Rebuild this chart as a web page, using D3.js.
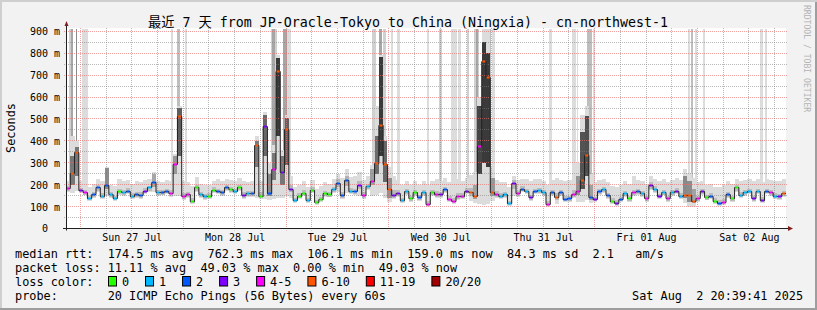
<!DOCTYPE html>
<html><head><meta charset="utf-8">
<script src="https://cdn.jsdelivr.net/npm/d3@7/dist/d3.min.js"></script>
<style>
body{margin:0;background:#f2f2f2;}
svg text{font-family:"DejaVu Sans Mono","Noto Sans CJK SC",monospace;white-space:pre;}
</style></head><body>
<svg id="c" width="817" height="310"></svg>
<script>
// ---------------- data ----------------
const title = "最近 7 天 from JP-Oracle-Tokyo to China (Ningxia) - cn-northwest-1";
const yLabel = "Seconds";
const watermark = "RRDTOOL / TOBI OETIKER";
const endTime = Date.UTC(2025, 7, 2, 20, 39, 41);
const spanHours = 168;           // 7 days, one value per hour
const yUpperMs = 913;            // graph upper limit (ms)
const yTicksMs = [0,100,200,300,400,500,600,700,800,900];
const yTickLabels = ["0  ","100 m","200 m","300 m","400 m","500 m","600 m","700 m","800 m","900 m"];
const dayNoons = ["2025-07-27","2025-07-28","2025-07-29","2025-07-30","2025-07-31","2025-08-01","2025-08-02"];
const dayLabels = ["Sun 27 Jul","Mon 28 Jul","Tue 29 Jul","Wed 30 Jul","Thu 31 Jul","Fri 01 Aug","Sat 02 Aug"];

// median RTT (ms), one per hour
const median = [
182,250,345,175,165,135,155,185,148,195,155,138,168,163,170,147,155,150,170,185,208,163,165,170,
160,290,512,145,155,125,185,155,145,147,175,170,163,185,178,170,185,150,160,158,380,148,465,160,
270,718,255,450,180,128,147,162,128,175,117,132,160,155,178,205,150,220,170,168,195,150,193,215,
295,470,290,180,150,160,128,168,135,163,140,163,108,163,155,155,178,132,125,145,147,170,163,148,
375,762,690,163,155,148,155,112,205,158,180,170,140,170,173,163,110,163,140,163,132,135,155,170,
220,335,140,132,167,178,150,125,115,132,160,135,163,168,160,135,195,178,145,165,135,163,170,147,
152,150,125,135,168,140,147,125,115,120,155,135,185,152,163,170,135,170,130,170,163,147,145,159];

// lost pings out of 20, one per hour
const loss = [
5,8,8,3,5,1,2,2,1,2,1,1,0,1,2,1,2,2,3,1,2,1,2,2,
5,5,8,5,4,0,0,1,1,0,0,2,2,2,0,1,0,3,1,2,8,0,3,2,
5,8,3,8,3,1,0,0,1,0,0,0,0,0,1,2,2,2,1,2,3,5,1,5,
8,8,8,8,3,3,1,1,0,0,2,1,5,0,5,3,2,5,5,5,5,3,8,8,
5,8,8,8,5,1,1,1,3,5,2,1,3,2,1,1,5,2,8,2,2,2,5,5,
8,8,2,3,2,1,2,0,3,2,1,0,5,2,1,5,3,1,3,1,5,1,3,1,
8,8,8,5,3,0,2,0,2,5,2,0,0,1,1,1,3,1,3,2,5,1,3,10];

// smoke: lowest ping, lower inner, upper inner, highest ping (ms)
const pingMin = [
168,160,170,161,151,124,141,168,136,150,141,126,154,148,156,134,141,136,156,168,165,148,151,156,
146,150,150,131,141,114,166,141,132,134,161,156,148,171,164,156,171,136,146,144,140,134,135,130,
135,140,140,150,140,116,134,148,116,161,106,120,146,142,164,165,136,160,156,154,150,136,176,150,
155,160,140,120,136,146,116,154,122,149,126,149,98,148,141,141,163,120,113,132,134,156,125,115,
110,105,110,125,141,134,141,101,150,144,166,156,126,156,159,149,99,149,110,149,120,123,141,120,
120,130,115,120,153,164,136,113,104,120,146,123,149,154,146,123,176,164,133,151,123,149,156,134,
115,100,100,123,154,128,134,113,104,108,141,123,166,139,149,156,123,156,118,156,149,134,132,144];
const pingLo = [
172,200,240,165,155,128,145,172,140,180,145,130,158,152,160,138,145,140,160,172,190,152,155,160,
150,250,330,135,145,118,170,145,136,138,165,160,152,175,168,160,175,140,150,148,280,138,330,150,
220,420,200,290,165,120,138,152,120,165,110,124,150,146,168,190,140,195,160,158,180,140,180,200,
250,330,210,140,140,150,120,158,126,153,130,153,102,152,145,145,167,124,117,136,138,160,150,135,
250,300,280,150,145,138,145,105,180,148,170,160,130,160,163,153,103,153,128,153,124,127,145,155,
180,240,130,124,157,168,140,117,108,124,150,127,153,158,150,127,180,168,137,155,127,153,160,138,
140,120,115,127,158,132,138,117,108,112,145,127,170,143,153,160,127,160,122,160,153,138,136,148];
const pingHi = [
195,330,370,185,175,150,165,200,160,275,165,150,180,175,185,160,165,165,185,195,250,175,178,182,
175,330,550,160,165,140,200,165,158,160,188,182,175,198,190,182,198,165,172,170,400,165,516,250,
345,780,330,505,200,140,160,175,140,188,130,145,172,168,190,225,165,240,185,180,215,165,205,270,
420,785,400,230,175,175,140,180,148,175,152,175,125,175,170,168,190,148,140,160,160,185,185,200,
560,850,800,230,170,160,168,125,220,172,192,182,155,182,185,175,125,175,160,175,148,150,175,240,
440,515,200,145,180,190,162,138,128,145,172,148,178,180,172,150,210,192,158,178,148,175,185,160,
240,215,180,150,180,152,160,138,128,135,168,148,198,165,175,182,148,182,145,182,175,160,158,172];
const pingMax = [
215,420,400,215,210,190,205,225,215,280,200,195,225,215,220,205,215,210,220,225,260,215,210,220,
215,340,560,215,210,195,235,205,200,200,215,225,215,225,220,215,230,215,210,215,420,215,530,300,
380,790,360,520,240,190,200,215,190,220,180,195,210,205,225,250,230,270,235,240,260,220,240,290,
560,790,420,280,240,220,200,215,200,215,200,215,200,215,225,215,230,210,200,225,215,230,245,260,
600,950,950,280,220,210,210,190,240,220,225,225,215,225,225,215,200,220,230,220,215,220,250,300,
520,560,250,210,220,225,210,195,190,200,215,205,240,220,215,205,240,225,215,225,210,220,230,220,
270,255,230,210,215,200,205,190,190,200,215,205,225,215,220,225,215,225,210,225,220,215,215,225];

// pings beyond the upper limit: [start hour, end hour, pings above limit]
const overTop = [
[0.70,1.70,2],[1.28,1.52,6],[2.40,2.64,8],[3.73,5.02,1],[24.57,24.96,1],[25.83,26.67,4],
[27.70,28.16,1],[47.76,49.30,2],[48.18,48.88,5],[50.70,51.64,5],[51.64,52.57,1],[71.47,72.26,2],
[73.03,73.80,6],[74.03,74.59,2],[75.76,76.37,1],[77.30,77.93,1],[84.30,84.77,1],[87.03,87.80,2],
[89.90,91.16,1],[91.47,92.10,1],[93.64,94.03,2],[95.20,96.37,2],[95.66,96.13,5],[97.53,99.09,4],
[98.0,98.9,7],[99.47,100.0,1],[112.70,113.47,1],[118.13,118.93,1],[119.16,119.47,1],[121.63,122.80,4],
[123.03,123.36,1],[145.13,145.60,1],[145.90,146.37,3],[146.69,147.16,1],[148.56,149.03,1],
[161.93,162.56,1],[163.03,163.49,1]];

const lossBuckets = ["0","1","2","3","4-5","6-10","11-19","20/20"];
const lossColors = ["#26ff00","#00b8ff","#0059ff","#7e00ff","#ff00ff","#ff5500","#ff0000","#a10000"];
const rttStats = ["174.5 ms avg","762.3 ms max","106.1 ms min","159.0 ms now","84.3 ms sd","2.1   am/s"];
const lossStats = ["11.11 % avg","49.03 % max","0.00 % min","49.03 % now"];
const probeText = "20 ICMP Echo Pings (56 Bytes) every 60s";
const stampText = "Sat Aug  2 20:39:41 2025";

// ---------------- drawing ----------------
const W = 817, H = 310;
const X0 = 66, X1 = 786, Y0 = 228.5, Y1 = 28.5;
const startTime = endTime - spanHours * 3600e3;
const tAt = h => new Date(startTime + h * 3600e3);
const x = d3.scaleUtc().domain([new Date(startTime), new Date(endTime)]).range([X0, X1]);
const y = d3.scaleLinear().domain([0, yUpperMs]).range([Y0, Y1]).clamp(true);

const svg = d3.select("#c");
svg.append("rect").attr("width", W).attr("height", H).attr("fill", "#f2f2f2");
svg.append("path").attr("d", `M0,0H${W}V2H2V${H}H0Z`).attr("fill", "#cfcfcf");
svg.append("path").attr("d", `M${W-2},2H${W}V${H}H0V${H-2}H${W-2}Z`).attr("fill", "#9e9e9e");
svg.append("rect").attr("x", X0).attr("y", 28).attr("width", X1 - X0).attr("height", Y0 - 28).attr("fill", "#fff");

const plot = svg.append("g");

function lossIndex(n) {
  if (n <= 3) return n;
  if (n <= 5) return 4;
  if (n <= 10) return 5;
  if (n <= 19) return 6;
  return 7;
}
function overColor(n) {
  if (n <= 1) return "#dcdcdc";
  if (n <= 2) return "#d0d0d0";
  if (n <= 4) return "#bebebe";
  if (n <= 6) return "#a6a6a6";
  return "#8a8a8a";
}

// pings above the limit: columns up to the top
plot.selectAll("rect.over").data(overTop).join("rect")
  .attr("x", d => x(tAt(d[0])))
  .attr("width", d => Math.max(1, x(tAt(d[1])) - x(tAt(d[0]))))
  .attr("y", y(yUpperMs))
  .attr("height", y(185) - y(yUpperMs))
  .attr("fill", d => overColor(d[2]))
  .attr("shape-rendering", "crispEdges");

const idx = d3.range(spanHours + 1);
const vAt = (arr, i) => arr[Math.min(i, arr.length - 1)];
const area = (lo, hi) => d3.area()
  .x(i => x(tAt(i)))
  .y0(i => y(vAt(lo, i)))
  .y1(i => y(vAt(hi, i)))
  .curve(d3.curveStepAfter);

plot.append("path").attr("d", area(pingMin, pingMax)(idx)).attr("fill", "#dcdcdc").attr("shape-rendering", "crispEdges");

// inner smoke: darker where the spread is wider
const shade = d3.scaleLinear().domain([30, 120, 350]).range(["#bcbcbc", "#7a7a7a", "#3a3a3a"]).clamp(true);
plot.selectAll("rect.inner").data(median).join("rect")
  .attr("x", (d, i) => x(tAt(i)))
  .attr("width", (d, i) => x(tAt(i + 1)) - x(tAt(i)))
  .attr("y", (d, i) => y(pingHi[i]))
  .attr("height", (d, i) => y(pingLo[i]) - y(pingHi[i]))
  .attr("fill", (d, i) => shade(pingHi[i] - pingLo[i]))
  .attr("shape-rendering", "crispEdges");

// grid
const grid = svg.append("g");
const hGrid = d3.range(50, yUpperMs, 50);
grid.selectAll("line.h").data(hGrid).join("line")
  .attr("x1", X0 - 2).attr("x2", X1 + 2)
  .attr("y1", d => Math.floor(y(d)) + 0.5).attr("y2", d => Math.floor(y(d)) + 0.5)
  .attr("stroke", d => d % 100 === 0 ? "rgba(235,110,110,0.65)" : "rgba(128,128,128,0.55)")
  .attr("stroke-dasharray", "1,1");
const vTimes = d3.utcHour.every(6).range(new Date(startTime), new Date(endTime));
grid.selectAll("line.v").data(vTimes).join("line")
  .attr("x1", d => Math.floor(x(d)) + 0.5).attr("x2", d => Math.floor(x(d)) + 0.5)
  .attr("y1", 28).attr("y2", Y0 + 2)
  .attr("stroke", d => d.getUTCHours() === 0 ? "rgba(235,110,110,0.65)" : "rgba(128,128,128,0.55)")
  .attr("stroke-dasharray", "1,1");

// median line
const line = d3.line().x(i => x(tAt(i))).y(i => Math.floor(y(vAt(median, i))) + 0.5).curve(d3.curveStepAfter);
svg.append("path").attr("d", line(idx)).attr("fill", "none").attr("stroke", "#202020").attr("stroke-width", 1);

// loss coloured median marks
svg.append("g").selectAll("rect").data(median).join("rect")
  .attr("x", (d, i) => x(tAt(i + 0.5)) - 1.5)
  .attr("y", d => Math.floor(y(d)) - 0.5)
  .attr("width", 3).attr("height", 2)
  .attr("fill", (d, i) => lossColors[lossIndex(loss[i])]);

// axes
const axisCol = "#1f1f1f";
const yAxis = d3.axisLeft(y).tickValues(yTicksMs).tickSize(0).tickPadding(6)
  .tickFormat((d, i) => yTickLabels[i]);
const gy = svg.append("g").attr("transform", `translate(${X0},0)`).call(yAxis);
gy.select(".domain").remove();
gy.selectAll("text").attr("font-size", "10px").attr("fill", "#000")
  .style("font-family", '"DejaVu Sans Mono",monospace').attr("dy", "0.34em");

const noons = dayNoons.map(s => new Date(s + "T12:00:00Z"));
const xAxis = d3.axisBottom(x).tickValues(noons).tickSize(0).tickPadding(5)
  .tickFormat((d, i) => dayLabels[i]);
const gx = svg.append("g").attr("transform", `translate(0,${Y0})`).call(xAxis);
gx.select(".domain").remove();
gx.selectAll("text").attr("font-size", "10px").attr("fill", "#000")
  .style("font-family", '"DejaVu Sans Mono",monospace');

svg.append("line").attr("x1", X0 + 0.5).attr("x2", X0 + 0.5).attr("y1", Y0 + 2).attr("y2", 24)
  .attr("stroke", axisCol);
svg.append("line").attr("x1", X0 - 3).attr("x2", X1 + 3).attr("y1", Y0).attr("y2", Y0)
  .attr("stroke", axisCol);
svg.append("path").attr("d", `M${X0-1.5},26L${X0+2.5},26L${X0+0.5},21Z`).attr("fill", "#7f1f1f");
svg.append("path").attr("d", `M${X1+2},226L${X1+2},231L${X1+7},228.5Z`).attr("fill", "#7f1f1f");

// texts
svg.append("text").attr("x", 408).attr("y", 26.5).attr("text-anchor", "middle")
  .attr("font-size", "13.3px").text(title);
svg.append("text").attr("transform", "translate(14.5,128) rotate(-90)").attr("text-anchor", "middle")
  .attr("font-size", "11.85px").text(yLabel);
svg.append("text").attr("transform", "translate(804,5) rotate(90)")
  .attr("font-size", "8.1px").attr("fill", "#b4b4b4").text(watermark);

const fs = "11.85px";
const lx = 15;
svg.append("text").attr("x", lx).attr("y", 258).attr("font-size", fs)
  .text("median rtt:  " + rttStats.join("  "));
svg.append("text").attr("x", lx).attr("y", 272).attr("font-size", fs)
  .text("packet loss: " + lossStats.join("  "));
svg.append("text").attr("x", lx).attr("y", 286).attr("font-size", fs).text("loss color:");
let bx = 108;
lossBuckets.forEach((lab, i) => {
  svg.append("rect").attr("x", bx + 0.5).attr("y", 276.5).attr("width", 8).attr("height", 9.5)
    .attr("fill", lossColors[i]).attr("stroke", "#000").attr("stroke-width", 1);
  svg.append("text").attr("x", bx + 14).attr("y", 286).attr("font-size", fs).text(lab);
  bx += 29.9 + lab.length * 7.13;
});
svg.append("text").attr("x", lx).attr("y", 300).attr("font-size", fs)
  .text("probe:       " + probeText);
svg.append("text").attr("x", 632).attr("y", 300).attr("font-size", fs).text(stampText);
</script>
</body></html>
